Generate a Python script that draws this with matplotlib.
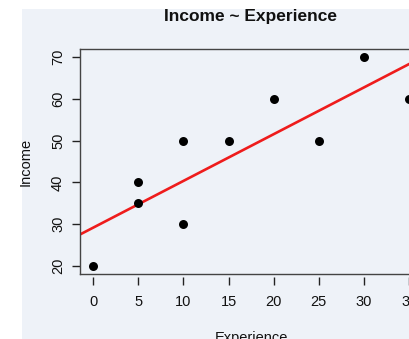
import numpy as np
import matplotlib
matplotlib.use("Agg")
import matplotlib.pyplot as plt
from matplotlib.patches import Rectangle

plt.rcParams['font.family'] = ['Liberation Sans', 'DejaVu Sans']

# Years of experience and income
experience = [0, 5, 5, 10, 10, 15, 20, 25, 30, 35]
income = [20, 35, 40, 30, 50, 50, 60, 50, 70, 60]
x_ticks = [0, 5, 10, 15, 20, 25, 30, 35]
y_ticks = [20, 30, 40, 50, 60, 70]

W, H = 409, 339
bg = '#eef2f8'
fig = plt.figure(figsize=(W / 100, H / 100), dpi=100, facecolor='white')

# tinted panel behind the plot
fig.patches.append(Rectangle((22 / W, 0), 1 - 22 / W, 1 - 9 / H,
                             transform=fig.transFigure, facecolor=bg,
                             edgecolor='none', zorder=-10))

left_px, right_px, top_px, bot_px = 80.4, 421.8, 48.6, 274.4
ax = fig.add_axes([left_px / W, 1 - bot_px / H,
                   (right_px - left_px) / W, (bot_px - top_px) / H])
ax.set_facecolor(bg)

x = np.array(experience, dtype=float)
y = np.array(income, dtype=float)
ax.scatter(x, y, s=42, color='black', zorder=3, linewidths=0)

# least-squares fit drawn across the whole plot region
slope, intercept = np.polyfit(x, y, 1)
xr = np.array([-5.0, 45.0])
ax.plot(xr, intercept + slope * xr, color='#ee1c1c', lw=1.9, zorder=2)

xpad = 0.04 * (max(x) - min(x))
ypad = 0.04 * (max(y) - min(y))
ax.set_xlim(min(x) - xpad, max(x) + xpad)
ax.set_ylim(min(y) - ypad, max(y) + ypad)

ax.set_xticks(x_ticks)
ax.set_yticks(y_ticks)

for s in ax.spines.values():
    s.set_color('#444444')
    s.set_linewidth(1.0)
ax.spines['bottom'].set_visible(False)
ax.spines['bottom'].set_position(('outward', 2))
ax.plot([0, 1], [0, 0], transform=ax.transAxes, color='#444444',
        lw=1.0, clip_on=False, zorder=4)

ax.tick_params(axis='both', direction='out', length=6, width=1.0,
               color='#222222', labelsize=10.5, labelcolor='#111111')
ax.tick_params(axis='x', pad=7)
ax.tick_params(axis='y', pad=5, labelrotation=90)
for lbl in ax.get_yticklabels():
    lbl.set_va('center')

ax.set_xlabel('Experience', fontsize=10.5, color='#111111', labelpad=16)
ax.set_ylabel('Income', fontsize=10.5, color='#111111', labelpad=13)

fig.text(251 / W, 1 - 16 / H, 'Income ~ Experience', ha='center',
         va='center', fontsize=12.5, fontweight='bold', color='#111111')

fig.savefig('out.png', dpi=100, facecolor='white')
